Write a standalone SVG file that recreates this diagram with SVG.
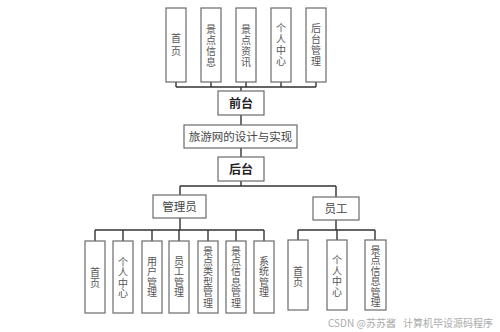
<svg xmlns="http://www.w3.org/2000/svg" width="500" height="332" viewBox="0 0 500 332">
<style>
.box{fill:#fff;stroke:#6a6a6a;stroke-width:1.2}
.v{font-family:"Noto Sans CJK SC",sans-serif;font-size:10px;fill:#555;text-anchor:middle;writing-mode:vertical-rl}
.vt{letter-spacing:1px}
.vb{letter-spacing:0.4px}
.h{font-family:"Noto Sans CJK SC",sans-serif;font-size:11.5px;fill:#444;text-anchor:middle}
.b{font-family:"Noto Sans CJK SC",sans-serif;font-size:12px;font-weight:bold;fill:#222;text-anchor:middle}
.ln{fill:none;stroke:#333;stroke-width:1.4}
.wm{font-family:"Noto Sans CJK SC",sans-serif;font-size:10px;fill:#aaa}
</style>
<rect width="500" height="332" fill="#fff"/>
<g id="connectors">
<path class="ln" d="M176 82V87M211 82V87M246 82V87M281 82V87M316 82V87M176 87H316M241 87V91"/>
<path class="ln" d="M241 115V125M241 148V157"/>
<path class="ln" d="M241 181V186M180 186H336M180 186V195M336 186V197"/>
<path class="ln" d="M180 218V230M95 230H264M95 230V241M123 230V241M152 230V241M179 230V241M208 230V241M236 230V241M264 230V241"/>
<path class="ln" d="M336 220V230M298 230H375M298 230V240M337 230V240M375 230V240"/>
</g>
<g id="t1"><rect class="box" x="166" y="8" width="20" height="74"/><text class="v" x="176" y="46" style="letter-spacing:3px">首页</text></g>
<g id="t2"><rect class="box" x="201" y="8" width="20" height="74"/><text class="v vt" x="211" y="46.5">景点信息</text></g>
<g id="t3"><rect class="box" x="236" y="8" width="20" height="74"/><text class="v vt" x="246" y="46.5">景点资讯</text></g>
<g id="t4"><rect class="box" x="271" y="8" width="20" height="74"/><text class="v vt" x="281" y="45.5">个人中心</text></g>
<g id="t5"><rect class="box" x="306" y="8" width="20" height="74"/><text class="v vt" x="316" y="45.5">后台管理</text></g>
<g id="qiantai"><rect class="box" x="218" y="91" width="46" height="24"/><text class="b" x="241" y="107.5">前台</text></g>
<g id="root"><rect class="box" x="184" y="125" width="113" height="23"/><text class="h" x="240.5" y="140.5">旅游网的设计与实现</text></g>
<g id="houtai"><rect class="box" x="218" y="157" width="46" height="24"/><text class="b" x="241" y="173.5">后台</text></g>
<g id="admin"><rect class="box" x="153" y="195" width="53" height="23"/><text class="h" x="179.5" y="210.5">管理员</text></g>
<g id="staff"><rect class="box" x="313" y="197" width="46" height="23"/><text class="h" x="336" y="212.5">员工</text></g>
<g id="a1"><rect class="box" x="85" y="241" width="20" height="72"/><text class="v" x="95" y="278" style="letter-spacing:1px">首页</text></g>
<g id="a2"><rect class="box" x="113" y="241" width="20" height="72"/><text class="v vb" x="123" y="278">个人中心</text></g>
<g id="a3"><rect class="box" x="142" y="241" width="20" height="72"/><text class="v vb" x="152" y="277">用户管理</text></g>
<g id="a4"><rect class="box" x="169" y="241" width="20" height="72"/><text class="v vb" x="179" y="277">员工管理</text></g>
<g id="a5"><rect class="box" x="198" y="241" width="20" height="72"/><text class="v vb" x="208" y="277">景点类型管理</text></g>
<g id="a6"><rect class="box" x="226" y="241" width="20" height="72"/><text class="v vb" x="236" y="277">景点信息管理</text></g>
<g id="a7"><rect class="box" x="254" y="241" width="20" height="72"/><text class="v vb" x="264" y="277">系统管理</text></g>
<g id="s1"><rect class="box" x="288" y="240" width="20" height="70"/><text class="v" x="298" y="277.5" style="letter-spacing:1px">首页</text></g>
<g id="s2"><rect class="box" x="327" y="240" width="20" height="70"/><text class="v vb" x="337" y="276.5">个人中心</text></g>
<g id="s3"><rect class="box" x="365" y="240" width="21" height="70"/><text class="v vb" x="375.5" y="276.5">景点信息管理</text></g>
<text class="wm" x="328" y="327">CSDN @苏苏酱</text>
<text class="wm" x="403" y="327">计算机毕设源码程序</text>
</svg>
